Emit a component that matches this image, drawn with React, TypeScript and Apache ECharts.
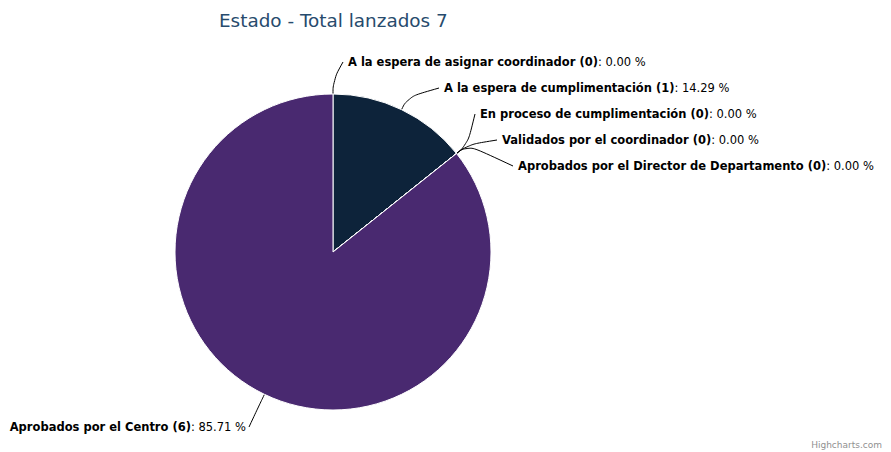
import React, { useEffect, useRef } from "react";
import * as echarts from "echarts";

const titleText = "Estado - Total lanzados 7";
const categories = [
  "A la espera de asignar coordinador",
  "A la espera de cumplimentación",
  "En proceso de cumplimentación",
  "Validados por el coordinador",
  "Aprobados por el Director de Departamento",
  "Aprobados por el Centro",
];
const values = [0, 1, 0, 0, 0, 6];
const colors = ["#2f7ed8", "#0d233a", "#8bbc21", "#910000", "#1aadce", "#492970"];

// label anchor positions (layout/style only)
const labelAnchors: { x: number; y: number; align: "left" | "right" }[] = [
  { x: 348, y: 62, align: "left" },
  { x: 444, y: 88, align: "left" },
  { x: 480, y: 114, align: "left" },
  { x: 502, y: 140, align: "left" },
  { x: 518, y: 166, align: "left" },
  { x: 246, y: 427, align: "right" },
];

const FONT = "'DejaVu Sans', sans-serif";

export default function App() {
  const ref = useRef<HTMLDivElement>(null);
  useEffect(() => {
    document.body.style.margin = "0";
    const chart = echarts.init(ref.current!, null, { renderer: "svg" });
    const total = values.reduce((a, b) => a + b, 0);
    chart.setOption({
      animation: false,
      backgroundColor: "#ffffff",
      title: {
        text: titleText,
        left: 214,
        top: 6,
        textStyle: { color: "#274b6d", fontSize: 18.4, fontWeight: "normal", fontFamily: FONT },
      },
      graphic: [
        {
          type: "text",
          right: 9,
          bottom: 3,
          style: { text: "Highcharts.com", fill: "#909090", fontSize: 9, fontFamily: FONT },
        },
      ],
      series: [
        {
          type: "pie",
          center: [333, 252],
          radius: 158,
          startAngle: 90,
          clockwise: true,
          avoidLabelOverlap: false,
          minShowLabelAngle: 0,
          itemStyle: { borderColor: "#ffffff", borderWidth: 1 },
          emphasis: { disabled: true },
          data: categories.map((name, i) => ({
            name,
            value: values[i],
            itemStyle: { color: colors[i] },
          })),
          label: {
            show: true,
            position: "outside",
            fontFamily: FONT,
            fontSize: 11.5,
            color: "#000000",
            formatter: (p: any) => {
              const pct = total ? ((p.value / total) * 100).toFixed(2) : "0.00";
              return `{b|${p.name} (${p.value})}{n|: ${pct} %}`;
            },
            rich: {
              b: { fontFamily: FONT, fontSize: 11.5, fontWeight: "bold", color: "#000000" },
              n: { fontFamily: FONT, fontSize: 11.5, fontWeight: "normal", color: "#000000" },
            },
          },
          labelLine: {
            show: true,
            smooth: 0.5,
            length: 10,
            length2: 10,
            lineStyle: { color: "#000000", width: 1 },
          },
          labelLayout: (params: any) => {
            const a = labelAnchors[params.dataIndex];
            const pts = params.labelLinePoints;
            let out: any = { x: a.x, y: a.y, align: a.align, verticalAlign: "middle" };
            if (pts && pts.length >= 2) {
              const p0 = pts[0];
              let dx = pts[1][0] - p0[0];
              let dy = pts[1][1] - p0[1];
              const len = Math.sqrt(dx * dx + dy * dy) || 1;
              dx /= len;
              dy /= len;
              const p1 = [p0[0] + dx * 14, p0[1] + dy * 14];
              const endX = a.align === "left" ? a.x - 5 : a.x + 3;
              const p2 = [endX, a.y];
              out.labelLinePoints = [p0, p1, p2];
            }
            return out;
          },
        },
      ],
    });
    return () => chart.dispose();
  }, []);
  return <div ref={ref} style={{ width: 891, height: 452 }} />;
}
